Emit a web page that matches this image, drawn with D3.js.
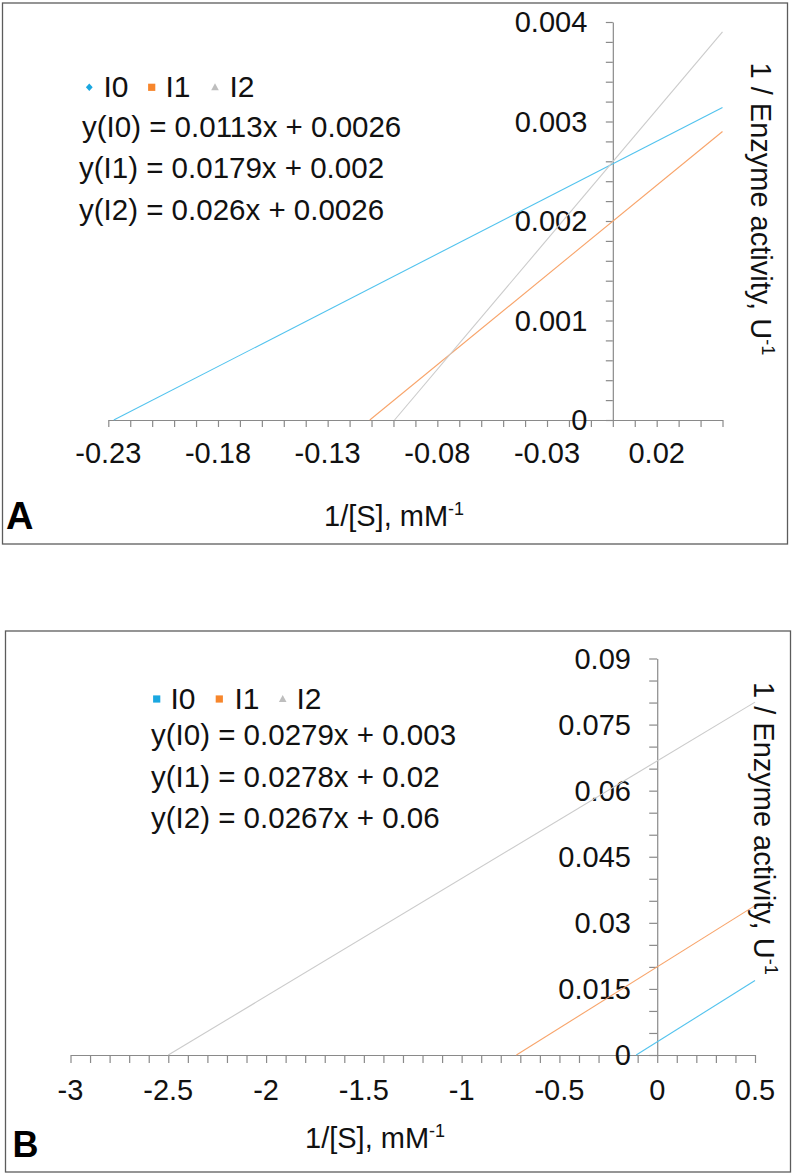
<!DOCTYPE html>
<html>
<head>
<meta charset="utf-8">
<script src="https://cdn.jsdelivr.net/npm/d3@7"></script>
<style>
  html, body { margin: 0; padding: 0; background: #ffffff; }
  svg { display: block; font-family: "Liberation Sans", Arial, sans-serif; }
</style>
</head>
<body>
<div id="chart"></div>
<script>
// ---------------- DATA ----------------
const seriesNames = ["I0", "I1", "I2"];

// Panel A – trendlines (x = 1/[S], y = 1/activity), endpoints
const aI0 = [[-0.2275, 0], [0.05, 0.00314]];
const aI1 = [[-0.1108, 0], [0.05, 0.00290]];
const aI2 = [[-0.0995, 0], [0.05, 0.00390]];
const aEquations = ["y(I0) = 0.0113x + 0.0026", "y(I1) = 0.0179x + 0.002", "y(I2) = 0.026x + 0.0026"];
const aXDomain = [-0.23, 0.05];
const aYDomain = [0, 0.004];
const aXTickLabels = ["-0.23", "-0.18", "-0.13", "-0.08", "-0.03", "0.02"];
const aYTickLabels = ["0", "0.001", "0.002", "0.003", "0.004"];

// Panel B
const bI0 = [[-0.1075, 0], [0.5, 0.0169]];
const bI1 = [[-0.72, 0], [0.5, 0.0339]];
const bI2 = [[-2.5, 0], [0.5, 0.0801]];
const bEquations = ["y(I0) = 0.0279x + 0.003", "y(I1) = 0.0278x + 0.02", "y(I2) = 0.0267x + 0.06"];
const bXDomain = [-3, 0.5];
const bYDomain = [0, 0.09];
const bXTickLabels = ["-3", "-2.5", "-2", "-1.5", "-1", "-0.5", "0", "0.5"];
const bYTickLabels = ["0", "0.015", "0.03", "0.045", "0.06", "0.075", "0.09"];

const xTitle = "1/[S], mM";
const yTitle = "1 / Enzyme activity, U";
const unitSup = "-1";

// ---------------- STYLE ----------------
const lineColors = ["#52C3EE", "#F8A46A", "#CBCBCB"];
const markerColors = ["#1AA7E0", "#F7862C", "#BEBEBE"];
const axisColor = "#8A8A8A";
const textColor = "#111111";

const W = 792, H = 1175;
const svg = d3.select("#chart").append("svg").attr("width", W).attr("height", H);
svg.append("rect").attr("width", W).attr("height", H).attr("fill", "#fff");

function drawPanel(p) {
  const g = svg.append("g");
  // frame
  g.append("rect").attr("x", p.frame[0]).attr("y", p.frame[1])
    .attr("width", p.frame[2]).attr("height", p.frame[3])
    .attr("fill", "none").attr("stroke", "#5c5c5c").attr("stroke-width", 1.3);

  const x = d3.scaleLinear().domain(p.xDomain).range(p.xRange);
  const y = d3.scaleLinear().domain(p.yDomain).range(p.yRange);

  // x axis (minor + major ticks all the same length)
  const nx = Math.round((p.xDomain[1] - p.xDomain[0]) / p.xMinor);
  const xTicks = d3.range(nx + 1).map(i => +(p.xDomain[0] + i * p.xMinor).toFixed(4));
  const xAxis = g.append("g").attr("transform", `translate(0,${y(0)})`)
    .call(d3.axisBottom(x).tickValues(xTicks).tickSize(p.tick).tickSizeOuter(0).tickFormat(""));
  xAxis.selectAll("path.domain").attr("stroke", axisColor).attr("stroke-width", 1.2);
  xAxis.selectAll(".tick line").attr("stroke", axisColor).attr("stroke-width", 1.2);

  // y axis at x = 0
  const ny = Math.round((p.yDomain[1] - p.yDomain[0]) / p.yMinor);
  const yTicks = d3.range(ny + 1).map(i => +(p.yDomain[0] + i * p.yMinor).toFixed(5));
  const yAxis = g.append("g").attr("transform", `translate(${x(0)},0)`)
    .call(d3.axisLeft(y).tickValues(yTicks).tickSize(p.tick).tickSizeOuter(0).tickFormat(""));
  yAxis.selectAll("path.domain").attr("stroke", axisColor).attr("stroke-width", 1.2);
  yAxis.selectAll(".tick line").attr("stroke", axisColor).attr("stroke-width", 1.2);

  // tick labels
  g.append("g").selectAll("text").data(p.xLabels).join("text")
    .attr("x", d => x(+d)).attr("y", y(0) + p.xLabelOffset)
    .attr("text-anchor", "middle").attr("font-size", 29).attr("fill", textColor)
    .text(d => d);
  g.append("g").selectAll("text").data(p.yLabels).join("text")
    .attr("x", x(0) - p.yLabelGap).attr("y", d => y(+d)).attr("dy", "0.36em")
    .attr("text-anchor", "end").attr("font-size", 29).attr("fill", textColor)
    .text(d => d);

  // lines
  const line = d3.line().x(d => x(d[0])).y(d => y(d[1]));
  p.series.forEach((s, i) => {
    g.append("path").datum(s).attr("d", line)
      .attr("fill", "none").attr("stroke", lineColors[i]).attr("stroke-width", 1.1);
  });

  // legend
  const lg = g.append("g");
  seriesNames.forEach((name, i) => {
    const mx = p.legendMarkerX[i], my = p.legendY;
    const shape = p.legendShapes[i];
    if (shape === "diamond") {
      lg.append("path").attr("d", `M${mx},${my - 3.8}L${mx + 3.4},${my}L${mx},${my + 3.8}L${mx - 3.4},${my}Z`)
        .attr("fill", markerColors[i]);
    } else if (shape === "square") {
      lg.append("rect").attr("x", mx - 3.6).attr("y", my - 3.6).attr("width", 7.2).attr("height", 7.2)
        .attr("fill", markerColors[i]);
    } else {
      lg.append("path").attr("d", `M${mx},${my - 4}L${mx + 3.8},${my + 3}L${mx - 3.8},${my + 3}Z`)
        .attr("fill", markerColors[i]);
    }
    lg.append("text").attr("x", p.legendTextX[i]).attr("y", p.legendBaseline)
      .attr("font-size", 30).attr("fill", textColor).text(name);
  });

  // equations
  p.equations.forEach((eq, i) => {
    g.append("text").attr("x", p.eqX[i]).attr("y", p.eqBaselines[i])
      .attr("font-size", 29.5).attr("fill", textColor).text(eq);
  });

  // x-axis title
  const xt = g.append("text").attr("x", p.xTitlePos[0]).attr("y", p.xTitlePos[1])
    .attr("font-size", 29).attr("fill", textColor);
  xt.append("tspan").text(xTitle);
  xt.append("tspan").attr("font-size", 18).attr("dy", -11).text(unitSup);

  // y-axis title (rotated, reading top-to-bottom)
  const yt = g.append("text")
    .attr("transform", `translate(${p.yTitlePos[0]},${p.yTitlePos[1]}) rotate(90)`)
    .attr("font-size", 29).attr("fill", textColor);
  yt.append("tspan").text(yTitle);
  yt.append("tspan").attr("font-size", 18).attr("dy", -11).text(unitSup);

  // panel letter
  g.append("text").attr("x", p.letterPos[0]).attr("y", p.letterPos[1])
    .attr("font-size", p.letterSize).attr("font-weight", "bold").attr("fill", "#000")
    .text(p.letter);
}

drawPanel({
  frame: [2.5, 3, 785, 541],
  xDomain: aXDomain, yDomain: aYDomain,
  xRange: [108.3, 722.5], yRange: [420, 22],
  xMinor: 0.01, yMinor: 0.0002, tick: 7,
  xLabels: aXTickLabels, yLabels: aYTickLabels,
  xLabelOffset: 43, yLabelGap: 25.5,
  series: [aI0, aI1, aI2],
  legendShapes: ["diamond", "square", "triangle"],
  legendMarkerX: [89.3, 151.7, 215], legendY: 87.3,
  legendTextX: [103.5, 165.5, 229.5], legendBaseline: 96.7,
  equations: aEquations, eqX: [82, 79, 79], eqBaselines: [136.7, 178.3, 220],
  xTitlePos: [324, 526], yTitlePos: [750.5, 62.5],
  letter: "A", letterPos: [6, 529], letterSize: 38
});

drawPanel({
  frame: [5.5, 631, 785, 541],
  xDomain: bXDomain, yDomain: bYDomain,
  xRange: [70.5, 755], yRange: [1055, 658.5],
  xMinor: 0.1, yMinor: 0.005, tick: 8,
  xLabels: bXTickLabels, yLabels: bYTickLabels,
  xLabelOffset: 45, yLabelGap: 26.3,
  series: [bI0, bI1, bI2],
  legendShapes: ["square", "square", "triangle"],
  legendMarkerX: [156.7, 219.3, 282.7], legendY: 699,
  legendTextX: [170.5, 234.5, 296.5], legendBaseline: 708.5,
  equations: bEquations, eqX: [151, 151, 151], eqBaselines: [745, 787, 828],
  xTitlePos: [305, 1148], yTitlePos: [754, 682],
  letter: "B", letterPos: [12.5, 1157], letterSize: 36
});
</script>
</body>
</html>
